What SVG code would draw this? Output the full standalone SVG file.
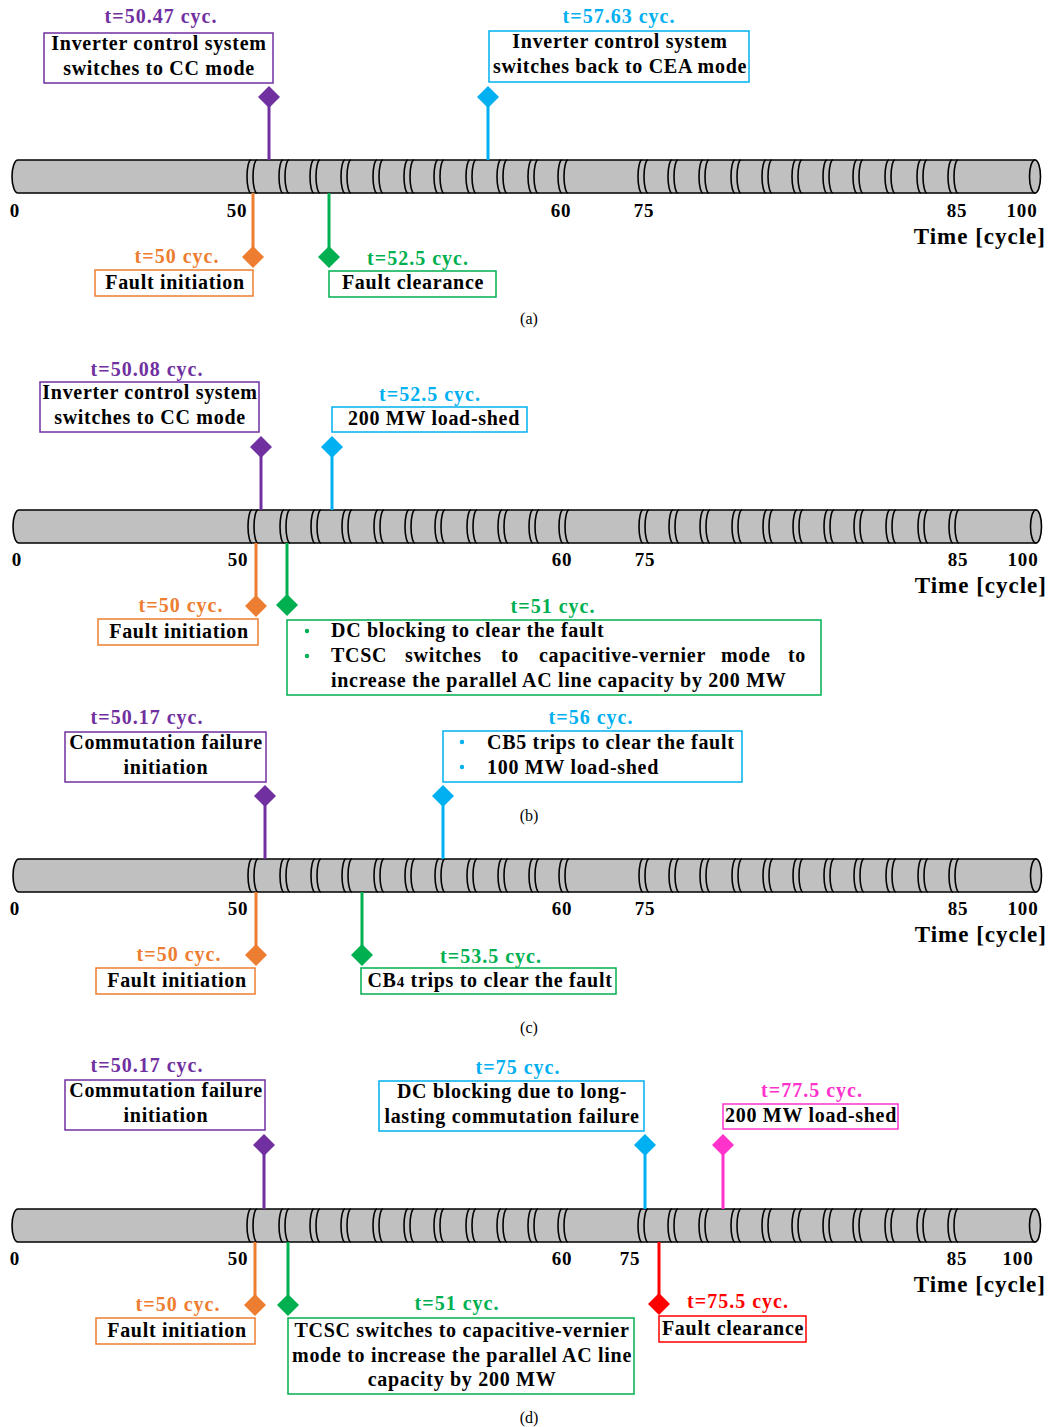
<svg xmlns="http://www.w3.org/2000/svg" xmlns:xlink="http://www.w3.org/1999/xlink" width="1050" height="1427" viewBox="0 0 1050 1427">
<style>
text{font-family:"Liberation Serif","Times New Roman",serif;font-weight:bold;fill:#000}
.lbl{font-size:20px;letter-spacing:0.7px}
.mid{text-anchor:middle}
.tt{font-size:20px;letter-spacing:1px;text-anchor:middle}
.tick{font-size:19px;letter-spacing:0.8px;text-anchor:middle}
.time{font-size:23px;letter-spacing:1px;text-anchor:end}
.cap{font-size:16px;font-weight:normal;text-anchor:middle}
.body{fill:#C0C0C0;stroke:#000;stroke-width:1.6}
.brk{fill:none;stroke:#000;stroke-width:1.6}
.box{fill:#fff;stroke-width:1.5}
.stem{stroke-width:3;fill:none}
.pu{stroke:#7030A0}.puf{fill:#7030A0}
.bl{stroke:#00B0F0}.blf{fill:#00B0F0}
.or{stroke:#ED7D31}.orf{fill:#ED7D31}
.gr{stroke:#00B050}.grf{fill:#00B050}
.pk{stroke:#FF33CC}.pkf{fill:#FF33CC}
.rd{stroke:#FF0000}.rdf{fill:#FF0000}
</style>
<defs>
<path id="dia" d="M0,-11 L11,0 L0,11 L-11,0 Z"/>
<g id="cyl">
<path class="body" d="M18,0 H1035 V33 H18 A6,16.5 0 0 1 18,0 Z"/>
<ellipse class="body" cx="1035" cy="16.5" rx="5.5" ry="16.5"/>
<path class="brk" d="M251,0A4,16.5 0 0 0 251,33M257,0A4,16.5 0 0 0 257,33M283,0A4,16.5 0 0 0 283,33M289,0A4,16.5 0 0 0 289,33M314,0A4,16.5 0 0 0 314,33M320,0A4,16.5 0 0 0 320,33M345,0A4,16.5 0 0 0 345,33M351,0A4,16.5 0 0 0 351,33M377,0A4,16.5 0 0 0 377,33M383,0A4,16.5 0 0 0 383,33M408,0A4,16.5 0 0 0 408,33M414,0A4,16.5 0 0 0 414,33M438,0A4,16.5 0 0 0 438,33M444,0A4,16.5 0 0 0 444,33M470,0A4,16.5 0 0 0 470,33M476,0A4,16.5 0 0 0 476,33M501,0A4,16.5 0 0 0 501,33M507,0A4,16.5 0 0 0 507,33M532,0A4,16.5 0 0 0 532,33M538,0A4,16.5 0 0 0 538,33M562,0A4,16.5 0 0 0 562,33M568,0A4,16.5 0 0 0 568,33M642,0A4,16.5 0 0 0 642,33M648,0A4,16.5 0 0 0 648,33M672,0A4,16.5 0 0 0 672,33M678,0A4,16.5 0 0 0 678,33M703,0A4,16.5 0 0 0 703,33M709,0A4,16.5 0 0 0 709,33M735,0A4,16.5 0 0 0 735,33M741,0A4,16.5 0 0 0 741,33M766,0A4,16.5 0 0 0 766,33M772,0A4,16.5 0 0 0 772,33M796,0A4,16.5 0 0 0 796,33M802,0A4,16.5 0 0 0 802,33M827,0A4,16.5 0 0 0 827,33M833,0A4,16.5 0 0 0 833,33M857,0A4,16.5 0 0 0 857,33M863,0A4,16.5 0 0 0 863,33M889,0A4,16.5 0 0 0 889,33M895,0A4,16.5 0 0 0 895,33M921,0A4,16.5 0 0 0 921,33M927,0A4,16.5 0 0 0 927,33M952,0A4,16.5 0 0 0 952,33M958,0A4,16.5 0 0 0 958,33"/>
</g>
</defs>

<!-- ===== Panel (a) ===== -->
<g id="timeline-a">
<use xlink:href="#cyl" href="#cyl" transform="translate(0,160)"/>
<text class="tick" x="15" y="217">0</text><text class="tick" x="237" y="217">50</text><text class="tick" x="561" y="217">60</text><text class="tick" x="644" y="217">75</text><text class="tick" x="957" y="217">85</text><text class="tick" x="1022" y="217">100</text>
<text class="time" x="1046" y="244">Time [cycle]</text>
</g>
<g id="connectors-a">
<line class="stem pu" x1="269" y1="97" x2="269" y2="160"/>
<line class="stem bl" x1="488" y1="97" x2="488" y2="160"/>
<line class="stem or" x1="253" y1="193" x2="253" y2="257"/>
<line class="stem gr" x1="329" y1="193" x2="329" y2="257"/>
<use href="#dia" xlink:href="#dia" class="puf" x="269" y="97"/>
<use href="#dia" xlink:href="#dia" class="blf" x="488" y="97"/>
<use href="#dia" xlink:href="#dia" class="orf" x="253" y="257"/>
<use href="#dia" xlink:href="#dia" class="grf" x="329" y="257"/>
</g>
<g id="a-cc">
<text class="tt" x="161" y="23" style="fill:#7030A0">t=50.47 cyc.</text>
<rect class="box pu" x="44" y="33" width="229" height="50"/>
<text class="lbl mid" x="159" y="50">Inverter control system</text>
<text class="lbl mid" x="159" y="75">switches to CC mode</text>
</g>
<g id="a-cea">
<text class="tt" x="619" y="23" style="fill:#00B0F0">t=57.63 cyc.</text>
<rect class="box bl" x="489" y="31" width="260" height="51"/>
<text class="lbl mid" x="620" y="48">Inverter control system</text>
<text class="lbl mid" x="620" y="73">switches back to CEA mode</text>
</g>
<g id="a-fault">
<text class="tt" x="177" y="263" style="fill:#ED7D31">t=50 cyc.</text>
<rect class="box or" x="95" y="270" width="158" height="26"/>
<text class="lbl mid" x="175" y="289">Fault initiation</text>
</g>
<g id="a-clear">
<text class="tt" x="418" y="265" style="fill:#00B050">t=52.5 cyc.</text>
<rect class="box gr" x="329" y="271" width="167" height="26"/>
<text class="lbl mid" x="413" y="289">Fault clearance</text>
</g>
<text class="cap" x="529" y="324">(a)</text>

<!-- ===== Panel (b) ===== -->
<g id="timeline-b">
<use xlink:href="#cyl" href="#cyl" transform="translate(1,510)"/>
<text class="tick" x="17" y="566">0</text><text class="tick" x="238" y="566">50</text><text class="tick" x="562" y="566">60</text><text class="tick" x="645" y="566">75</text><text class="tick" x="958" y="566">85</text><text class="tick" x="1023" y="566">100</text>
<text class="time" x="1047" y="593">Time [cycle]</text>
</g>
<g id="connectors-b">
<line class="stem pu" x1="261" y1="447" x2="261" y2="510"/>
<line class="stem bl" x1="332" y1="447" x2="332" y2="510"/>
<line class="stem or" x1="256" y1="543" x2="256" y2="606"/>
<line class="stem gr" x1="287" y1="543" x2="287" y2="605"/>
<use href="#dia" xlink:href="#dia" class="puf" x="261" y="447"/>
<use href="#dia" xlink:href="#dia" class="blf" x="332" y="447"/>
<use href="#dia" xlink:href="#dia" class="orf" x="256" y="606"/>
<use href="#dia" xlink:href="#dia" class="grf" x="287" y="605"/>
</g>
<g id="b-cc">
<text class="tt" x="147" y="376" style="fill:#7030A0">t=50.08 cyc.</text>
<rect class="box pu" x="40" y="382" width="219" height="50"/>
<text class="lbl mid" x="150" y="399">Inverter control system</text>
<text class="lbl mid" x="150" y="424">switches to CC mode</text>
</g>
<g id="b-shed">
<text class="tt" x="430" y="401" style="fill:#00B0F0">t=52.5 cyc.</text>
<rect class="box bl" x="332" y="407" width="195" height="25"/>
<text class="lbl mid" x="434" y="425">200 MW load-shed</text>
</g>
<g id="b-fault">
<text class="tt" x="181" y="612" style="fill:#ED7D31">t=50 cyc.</text>
<rect class="box or" x="98" y="619" width="160" height="26"/>
<text class="lbl mid" x="179" y="638">Fault initiation</text>
</g>
<g id="b-dc">
<text class="tt" x="553" y="613" style="fill:#00B050">t=51 cyc.</text>
<rect class="box gr" x="287" y="620" width="534" height="75"/>
<circle class="grf" cx="307" cy="631" r="2.2"/>
<circle class="grf" cx="307" cy="656" r="2.2"/>
<text class="lbl" x="331" y="637">DC blocking to clear the fault</text>
<text class="lbl" y="662"><tspan x="331">TCSC</tspan><tspan x="405">switches</tspan><tspan x="501">to</tspan><tspan x="539">capacitive-vernier</tspan><tspan x="721">mode</tspan><tspan x="788">to</tspan></text>
<text class="lbl" x="331" y="687">increase the parallel AC line capacity by 200 MW</text>
</g>
<text class="cap" x="529" y="821">(b)</text>

<!-- ===== Panel (c) ===== -->
<g id="timeline-c">
<use xlink:href="#cyl" href="#cyl" transform="translate(1,859)"/>
<text class="tick" x="15" y="915">0</text><text class="tick" x="238" y="915">50</text><text class="tick" x="562" y="915">60</text><text class="tick" x="645" y="915">75</text><text class="tick" x="958" y="915">85</text><text class="tick" x="1023" y="915">100</text>
<text class="time" x="1047" y="942">Time [cycle]</text>
</g>
<g id="connectors-c">
<line class="stem pu" x1="265" y1="796" x2="265" y2="859"/>
<line class="stem bl" x1="443" y1="796" x2="443" y2="859"/>
<line class="stem or" x1="256" y1="892" x2="256" y2="955"/>
<line class="stem gr" x1="362" y1="892" x2="362" y2="955"/>
<use href="#dia" xlink:href="#dia" class="puf" x="265" y="796"/>
<use href="#dia" xlink:href="#dia" class="blf" x="443" y="796"/>
<use href="#dia" xlink:href="#dia" class="orf" x="256" y="955"/>
<use href="#dia" xlink:href="#dia" class="grf" x="362" y="955"/>
</g>
<g id="c-cf">
<text class="tt" x="147" y="724" style="fill:#7030A0">t=50.17 cyc.</text>
<rect class="box pu" x="65" y="732" width="201" height="50"/>
<text class="lbl mid" x="166" y="749">Commutation failure</text>
<text class="lbl mid" x="166" y="774">initiation</text>
</g>
<g id="c-cb5">
<text class="tt" x="591" y="724" style="fill:#00B0F0">t=56 cyc.</text>
<rect class="box bl" x="443" y="731" width="299" height="51"/>
<circle class="blf" cx="462" cy="742" r="2.2"/>
<circle class="blf" cx="462" cy="767" r="2.2"/>
<text class="lbl" x="487" y="749">CB5 trips to clear the fault</text>
<text class="lbl" x="487" y="774">100 MW load-shed</text>
</g>
<g id="c-fault">
<text class="tt" x="179" y="961" style="fill:#ED7D31">t=50 cyc.</text>
<rect class="box or" x="96" y="968" width="159" height="26"/>
<text class="lbl mid" x="177" y="987">Fault initiation</text>
</g>
<g id="c-cb4">
<text class="tt" x="491" y="963" style="fill:#00B050">t=53.5 cyc.</text>
<rect class="box gr" x="361" y="968" width="255" height="26"/>
<text class="lbl mid" x="490" y="987">CB<tspan style="font-size:15px">4</tspan> trips to clear the fault</text>
</g>
<text class="cap" x="529" y="1033">(c)</text>

<!-- ===== Panel (d) ===== -->
<g id="timeline-d">
<use xlink:href="#cyl" href="#cyl" transform="translate(0,1209)"/>
<text class="tick" x="15" y="1265">0</text><text class="tick" x="238" y="1265">50</text><text class="tick" x="562" y="1265">60</text><text class="tick" x="630" y="1265">75</text><text class="tick" x="957" y="1265">85</text><text class="tick" x="1018" y="1265">100</text>
<text class="time" x="1046" y="1292">Time [cycle]</text>
</g>
<g id="connectors-d">
<line class="stem pu" x1="264" y1="1145" x2="264" y2="1209"/>
<line class="stem bl" x1="645" y1="1145" x2="645" y2="1209"/>
<line class="stem pk" x1="723" y1="1145" x2="723" y2="1209"/>
<line class="stem or" x1="255" y1="1242" x2="255" y2="1305"/>
<line class="stem gr" x1="288" y1="1242" x2="288" y2="1305"/>
<line class="stem rd" x1="659" y1="1242" x2="659" y2="1304"/>
<use href="#dia" xlink:href="#dia" class="puf" x="264" y="1145"/>
<use href="#dia" xlink:href="#dia" class="blf" x="645" y="1145"/>
<use href="#dia" xlink:href="#dia" class="pkf" x="723" y="1145"/>
<use href="#dia" xlink:href="#dia" class="orf" x="255" y="1305"/>
<use href="#dia" xlink:href="#dia" class="grf" x="288" y="1305"/>
<use href="#dia" xlink:href="#dia" class="rdf" x="659" y="1304"/>
</g>
<g id="d-cf">
<text class="tt" x="147" y="1072" style="fill:#7030A0">t=50.17 cyc.</text>
<rect class="box pu" x="65" y="1080" width="200" height="50"/>
<text class="lbl mid" x="166" y="1097">Commutation failure</text>
<text class="lbl mid" x="166" y="1122">initiation</text>
</g>
<g id="d-dc">
<text class="tt" x="518" y="1074" style="fill:#00B0F0">t=75 cyc.</text>
<rect class="box bl" x="379" y="1081" width="265" height="50"/>
<text class="lbl mid" x="512" y="1098">DC blocking due to long-</text>
<text class="lbl mid" x="512" y="1123">lasting commutation failure</text>
</g>
<g id="d-shed">
<text class="tt" x="812" y="1097" style="fill:#FF33CC">t=77.5 cyc.</text>
<rect class="box pk" x="723" y="1104" width="175" height="25"/>
<text class="lbl mid" x="811" y="1122">200 MW load-shed</text>
</g>
<g id="d-fault">
<text class="tt" x="178" y="1311" style="fill:#ED7D31">t=50 cyc.</text>
<rect class="box or" x="96" y="1318" width="159" height="26"/>
<text class="lbl mid" x="177" y="1337">Fault initiation</text>
</g>
<g id="d-tcsc">
<text class="tt" x="457" y="1310" style="fill:#00B050">t=51 cyc.</text>
<rect class="box gr" x="288" y="1318" width="346" height="76"/>
<text class="lbl mid" x="462" y="1337">TCSC switches to capacitive-vernier</text>
<text class="lbl mid" x="462" y="1362">mode to increase the parallel AC line</text>
<text class="lbl mid" x="462" y="1386">capacity by 200 MW</text>
</g>
<g id="d-clear">
<text class="tt" x="738" y="1308" style="fill:#FF0000">t=75.5 cyc.</text>
<rect class="box rd" x="659" y="1316" width="147" height="26"/>
<text class="lbl mid" x="733" y="1335">Fault clearance</text>
</g>
<text class="cap" x="529" y="1423">(d)</text>
</svg>
